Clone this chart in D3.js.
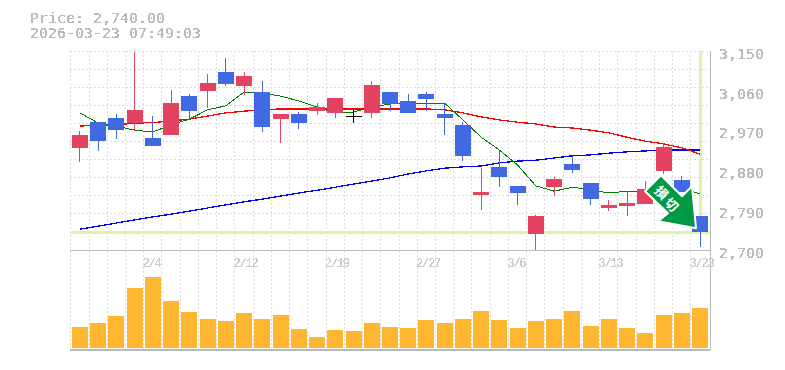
<!DOCTYPE html>
<html>
<head>
<meta charset="utf-8">
<script src="https://cdn.jsdelivr.net/npm/d3@7"></script>
<style>
  html, body { margin: 0; padding: 0; background: #fff; }
  svg { display: block; }
  .lbl text, text.lbl { font-family: "DejaVu Sans Mono", monospace; font-size: 13.5px; fill: #bbb; }
  .date text { font-family: "Liberation Mono", monospace; font-size: 12px; letter-spacing: -1.2px; fill: #ccc; }
</style>
</head>
<body>
<div id="chart"></div>
<script>
const dates = ["1/29","1/30","2/2","2/3","2/4","2/5","2/6","2/9","2/10","2/12","2/13","2/16","2/17","2/18","2/19","2/20","2/24","2/25","2/26","2/27","3/2","3/3","3/4","3/5","3/6","3/9","3/10","3/11","3/12","3/13","3/16","3/17","3/18","3/19","3/23"];
const opens  = [2931,2989,2998,2987,2953,2960,3048,3059,3102,3071,3057,2996,3007,3014,3010,3003,3010,3057,3037,3053,3007,2983,2824,2888,2845,2736,2842,2894,2851,2795,2799,2804,2879,2858,2777];
const closes = [2960,2946,2971,3017,2935,3032,3014,3078,3075,3093,2978,3007,2987,3023,3044,3003,3073,3030,3010,3041,2998,2913,2831,2865,2829,2777,2861,2881,2815,2802,2806,2838,2933,2831,2741];
const highs  = [2969,2989,3007,3148,3003,3062,3053,3098,3134,3102,3082,3007,3012,3032,3044,3017,3082,3057,3053,3057,3032,2989,2885,2924,2845,2779,2865,2913,2851,2813,2833,2856,2942,2867,2777];
const lows   = [2900,2924,2951,2969,2935,2960,2996,3021,3071,3050,2967,2942,2974,3005,2998,2987,2998,3014,3010,3014,2960,2901,2790,2842,2802,2700,2822,2874,2802,2788,2777,2804,2872,2831,2707];
const volumes = [21,25,32,60,71,47,36,29,27,35,29,33,19,11,18,17,25,21,20,28,25,29,37,28,20,27,29,37,22,29,20,15,33,35,40];
const maShort = [3010,2987,2980,2971,2967,2983,2996,3017,3026,3057,3055,3048,3037,3023,3010,3012,3023,3030,3032,3032,3032,2994,2955,2926,2892,2845,2833,2842,2836,2829,2833,2831,2836,2840,2827];
const maMid   = [2980,2983,2983,2987,2988,2992,2996,3003,3010,3014,3017,3019,3019,3019,3019,3019,3019,3019,3019,3019,3017,3010,3001,2994,2989,2985,2978,2976,2971,2965,2955,2946,2940,2931,2917];
const maLong  = [2747,2754,2761,2768,2775,2781,2788,2795,2802,2809,2815,2822,2829,2835,2842,2849,2856,2863,2872,2879,2885,2888,2890,2897,2901,2903,2908,2913,2915,2919,2922,2924,2926,2926,2926];
const dateLabels = ["2/4","2/12","2/19","2/27","3/6","3/13","3/23"];
const priceLabels = [2700,2790,2880,2970,3060,3150];
const lastPrice = 2740;

const width = 785, height = 370;
const plotLeft = 70, plotRight = 710, plotTop = 51, plotMid = 250, plotBottom = 350;
const charWidth = 9;

const svg = d3.select("#chart").append("svg")
    .attr("width", width)
    .attr("height", height);

//hard threshold so the text looks like the bitmap original
const noAA = svg.append("defs").append("filter").attr("id", "noaa")
    .attr("x", 0).attr("y", 0).attr("width", 1).attr("height", 1);
noAA.append("feComponentTransfer").append("feFuncA")
    .attr("type", "discrete").attr("tableValues", "0 1 1");

const xScale = d3.scaleBand().domain(dates).range([72, 708]).paddingInner(0.123).paddingOuter(0);
const yScale = d3.scaleLinear().domain([2700, 3150]).range([plotMid, plotTop]);
const volScale = d3.scaleLinear().domain([0, 100]).range([348, 248]);
const cx = d => xScale(d) + xScale.bandwidth() / 2;

//grid
const gridX = dates.map(d => xScale(d) - 1.2);
const gridY = d3.range(0, 11).map(i => 2700 + (i + 1) * 450 / 11);
const grid = svg.append("g")
    .attr("stroke", "#ddd")
    .attr("stroke-dasharray", "2,2")
    .attr("shape-rendering", "crispEdges");
grid.selectAll("line.v").data(gridX).enter().append("line")
    .attr("class", "v")
    .attr("x1", d => d).attr("x2", d => d)
    .attr("y1", plotTop).attr("y2", plotBottom);
grid.selectAll("line.h").data(gridY).enter().append("line")
    .attr("class", "h")
    .attr("x1", plotLeft).attr("x2", plotRight)
    .attr("y1", d => yScale(d)).attr("y2", d => yScale(d));

//frame
const frame = svg.append("g").attr("stroke", "#bbb").attr("shape-rendering", "crispEdges");
frame.append("line").attr("x1", plotLeft).attr("x2", plotRight).attr("y1", plotMid).attr("y2", plotMid);
frame.append("line").attr("x1", plotLeft).attr("x2", plotRight).attr("y1", plotBottom).attr("y2", plotBottom).attr("stroke-width", 2);
frame.append("line").attr("x1", plotRight).attr("x2", plotRight).attr("y1", plotTop).attr("y2", plotBottom);

//current price / current date highlight
const hi = svg.append("g").attr("stroke", "#e2f2a8").attr("stroke-width", 3).attr("shape-rendering", "crispEdges");
hi.append("line").attr("x1", plotLeft).attr("x2", plotRight).attr("y1", yScale(lastPrice)).attr("y2", yScale(lastPrice));
hi.append("line").attr("x1", cx("3/23")).attr("x2", cx("3/23")).attr("y1", plotTop).attr("y2", yScale(lastPrice));

//moving averages
const line = d3.line().x((d, i) => cx(dates[i])).y(d => yScale(d));
[[maLong, "#0000ff", 1.3], [maMid, "#ff0000", 1.3], [maShort, "#008000", 1]].forEach(([s, c, w]) => {
    svg.append("path")
        .attr("d", line(s))
        .attr("fill", "none")
        .attr("stroke", c)
        .attr("stroke-width", w)
        .attr("shape-rendering", "crispEdges");
});

//candles
const candleColor = i => closes[i] > opens[i] ? "#e34360" : closes[i] < opens[i] ? "#4169e1" : "#000";
const candles = svg.append("g").attr("shape-rendering", "crispEdges");
candles.selectAll("line.wick").data(dates).enter().append("line")
    .attr("class", "wick")
    .attr("x1", d => cx(d)).attr("x2", d => cx(d))
    .attr("y1", (d, i) => yScale(highs[i])).attr("y2", (d, i) => yScale(lows[i]))
    .attr("stroke", (d, i) => candleColor(i));
candles.selectAll("rect").data(dates).enter().append("rect")
    .attr("x", d => xScale(d))
    .attr("y", (d, i) => yScale(Math.max(opens[i], closes[i])))
    .attr("width", xScale.bandwidth())
    .attr("height", (d, i) => Math.max(1, Math.abs(yScale(opens[i]) - yScale(closes[i]))))
    .attr("fill", (d, i) => candleColor(i));

//volume
svg.append("g").attr("shape-rendering", "crispEdges")
    .selectAll("rect").data(volumes).enter().append("rect")
    .attr("x", (d, i) => xScale(dates[i]))
    .attr("y", d => volScale(d))
    .attr("width", xScale.bandwidth())
    .attr("height", d => volScale(0) - volScale(d))
    .attr("fill", "#ffb732");

//axes, date labels start left of the candle centre
const xAxis = svg.append("g")
    .attr("class", "date")
    .attr("transform", `translate(-10.5,${plotMid})`)
    .call(d3.axisBottom(xScale).tickValues(dateLabels).tickSize(0).tickPadding(8));
xAxis.select(".domain").remove();
xAxis.selectAll("text").attr("text-anchor", "start").attr("filter", "url(#noaa)");

const yAxis = svg.append("g")
    .attr("class", "lbl")
    .attr("transform", `translate(${plotRight + 9},3)`)
    .call(d3.axisRight(yScale).tickValues(priceLabels).tickFormat(d3.format(",")).tickSize(0).tickPadding(0));
yAxis.select(".domain").remove();
yAxis.selectAll("text")
    .attr("textLength", 5 * charWidth)
    .attr("lengthAdjust", "spacingAndGlyphs")
    .attr("filter", "url(#noaa)");

//header
[["Price: 2,740.00", 23], ["2026-03-23 07:49:03", 38]].forEach(([t, y]) => {
    svg.append("text").attr("class", "lbl").attr("x", 30).attr("y", y)
        .attr("textLength", t.length * charWidth)
        .attr("lengthAdjust", "spacingAndGlyphs")
        .attr("filter", "url(#noaa)")
        .text(t);
});

//stop loss arrow, tip sits on the last candle
const tipX = cx("3/23") - 4, tipY = yScale(lastPrice) - 4;
const arrow = svg.append("g").attr("transform", `translate(${tipX},${tipY})`);
arrow.append("path")
    .attr("d", "M-35,-53 L-51,-37 L-28,-15 L-38,-7 L0,0 L-4,-42 L-14,-32 Z")
    .attr("fill", "#009944")
    .attr("stroke", "#fff")
    .attr("stroke-width", 2)
    .attr("stroke-linejoin", "round");
arrow.selectAll("text").data(["損", "切"]).enter().append("text")
    .attr("transform", (d, i) => `translate(${-34 + i * 10},${-36 + i * 12}) rotate(45)`)
    .attr("text-anchor", "middle")
    .attr("dominant-baseline", "central")
    .attr("font-family", "Noto Sans CJK JP")
    .attr("font-weight", 700)
    .attr("font-size", 13)
    .attr("fill", "#fff")
    .text(d => d);
</script>
</body>
</html>
